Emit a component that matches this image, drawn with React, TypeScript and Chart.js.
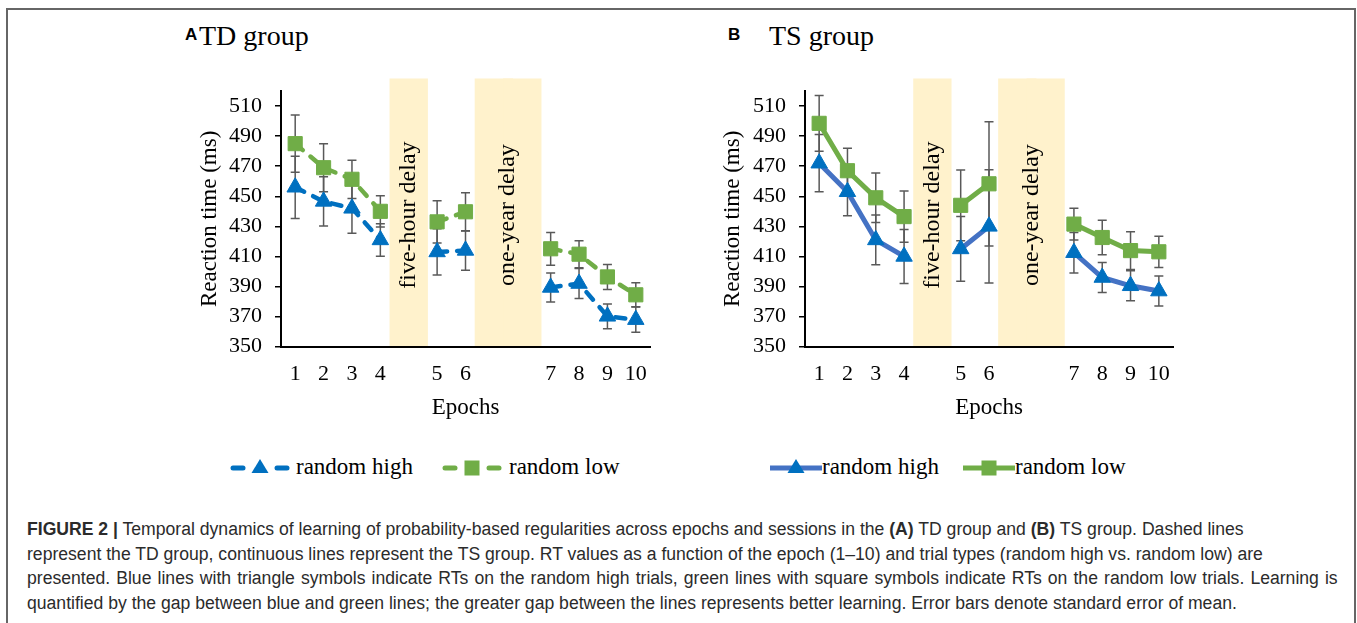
import React, { useEffect, useRef } from 'react';
import { Chart, registerables } from 'chart.js';

Chart.register(...registerables);

const SERIF = "'Liberation Serif', 'Times New Roman', serif";
const SANS = "'Liberation Sans', Arial, sans-serif";

// ---- data ----
const epochs = ['1', '2', '3', '4', '5', '6', '7', '8', '9', '10'];
// category slots of the x axis; empty slots hold the delay bands
const xSlots = ['1', '2', '3', '4', '', '5', '6', '', '', '7', '8', '9', '10'];
const delayLabels = ['five-hour delay', 'one-year delay'];
const delaySlots = [[4], [7, 8]];
const delayTop = 525;
const yTicks = [350, 370, 390, 410, 430, 450, 470, 490, 510];
const yMin = 350;
const yMax = 520;

// TD group (panel A)
const tdHigh = [456, 446.6, 442, 421, 413, 414, 389.4, 392, 370.2, 368];
const tdHighSE = [20.7, 16.4, 16.5, 10.8, 15.4, 13.1, 9.6, 10, 8.2, 8.4];
const tdLow = [485, 469, 461.3, 440, 433, 439.7, 415.1, 411.5, 396.4, 384.5];
const tdLowSE = [19, 16, 12.7, 10.4, 14, 12.7, 10.9, 9, 8.3, 8];
// TS group (panel B)
const tsHigh = [472, 453, 421, 410, 415, 430, 412.5, 396, 390.5, 387];
const tsHighSE = [19, 16, 16.5, 18, 21.5, 37.7, 13.5, 10, 10, 10];
const tsLow = [498.5, 467, 449, 436.5, 444, 458.3, 431.5, 422.6, 413.9, 413.1];
const tsLowSE = [18.5, 15, 16.5, 17, 23.5, 41.3, 10.5, 11.5, 12.5, 10.4];

const seriesNames = ['random high', 'random low'];

const BLUE = '#0070C0';
const BLUE_LINE = '#4472C4';
const GREEN = '#70AD47';
const BAND = '#FFF2CC';

function toSlots(values: number[]) {
  return xSlots.map((s) => (s === '' ? null : values[epochs.indexOf(s)]));
}

const errorBarsPlugin = {
  id: 'errorBars',
  beforeDatasetsDraw(chart: any) {
    const { ctx } = chart;
    const y = chart.scales.y;
    ctx.save();
    ctx.strokeStyle = '#595959';
    ctx.lineWidth = 1.5;
    chart.data.datasets.forEach((ds: any, i: number) => {
      if (!ds.errors) return;
      const meta = chart.getDatasetMeta(i);
      meta.data.forEach((el: any, j: number) => {
        const v = ds.data[j];
        const e = ds.errors[j];
        if (v == null || e == null) return;
        const x = el.x;
        const t = y.getPixelForValue(v + e);
        const b = y.getPixelForValue(v - e);
        ctx.beginPath();
        ctx.moveTo(x, t);
        ctx.lineTo(x, b);
        ctx.moveTo(x - 4.5, t);
        ctx.lineTo(x + 4.5, t);
        ctx.moveTo(x - 4.5, b);
        ctx.lineTo(x + 4.5, b);
        ctx.stroke();
      });
    });
    ctx.restore();
  },
};

const delayLabelPlugin = {
  id: 'delayLabels',
  afterDatasetsDraw(chart: any) {
    const { ctx } = chart;
    const x = chart.scales.x;
    const y = chart.scales.y;
    ctx.save();
    ctx.fillStyle = '#000';
    ctx.font = `24px ${SERIF}`;
    ctx.textAlign = 'center';
    ctx.textBaseline = 'middle';
    const cy = (y.getPixelForValue(delayTop) + y.getPixelForValue(yMin)) / 2;
    delaySlots.forEach((slots, k) => {
      const cx = slots.reduce((s, i) => s + x.getPixelForValue(i), 0) / slots.length;
      ctx.save();
      ctx.translate(cx, cy);
      ctx.rotate(-Math.PI / 2);
      ctx.fillText(delayLabels[k], 0, 0);
      ctx.restore();
    });
    ctx.restore();
  },
};

type PanelProps = {
  left: number;
  top: number;
  width: number;
  height: number;
  high: number[];
  highSE: number[];
  low: number[];
  lowSE: number[];
  dashed: boolean;
  padLeft: number;
  yTitlePad: { top: number; bottom: number };
};

function ChartPanel(p: PanelProps) {
  const ref = useRef<HTMLCanvasElement>(null);
  useEffect(() => {
    if (!ref.current) return;
    const bandData = xSlots.map((_, i) => (delaySlots.some((s) => s.includes(i)) ? delayTop : null));
    const dash = p.dashed ? [10, 10] : [];
    const chart = new Chart(ref.current, {
      type: 'bar',
      data: {
        labels: xSlots,
        datasets: [
          {
            type: 'bar',
            label: 'delay',
            data: bandData,
            backgroundColor: BAND,
            borderWidth: 0,
            barPercentage: 1,
            categoryPercentage: 1,
            inflateAmount: 5,
            order: 3,
            clip: { left: false, top: false, right: false, bottom: 0 },
          } as any,
          {
            type: 'line',
            label: seriesNames[0],
            data: toSlots(p.high),
            errors: toSlots(p.highSE),
            borderColor: p.dashed ? BLUE : BLUE_LINE,
            borderWidth: p.dashed ? 4.5 : 5,
            borderDash: dash,
            borderCapStyle: p.dashed ? 'round' : 'butt',
            tension: 0,
            spanGaps: false,
            pointStyle: 'triangle',
            pointRadius: 9.5,
            pointBorderWidth: 1,
            pointBackgroundColor: BLUE,
            pointBorderColor: BLUE,
            order: 2,
            clip: false,
          } as any,
          {
            type: 'line',
            label: seriesNames[1],
            data: toSlots(p.low),
            errors: toSlots(p.lowSE),
            borderColor: GREEN,
            borderWidth: p.dashed ? 4.5 : 5,
            borderDash: dash,
            borderCapStyle: p.dashed ? 'round' : 'butt',
            tension: 0,
            spanGaps: false,
            pointStyle: 'rect',
            pointRadius: 10,
            pointBorderWidth: 1,
            pointBackgroundColor: GREEN,
            pointBorderColor: GREEN,
            order: 1,
            clip: false,
          } as any,
        ],
      },
      options: {
        animation: false,
        responsive: false,
        devicePixelRatio: 1,
        events: [],
        layout: { padding: { left: p.padLeft, right: 15, top: 31, bottom: 4.3 } },
        font: { family: SERIF },
        plugins: {
          legend: { display: false },
          tooltip: { enabled: false },
        },
        scales: {
          x: {
            type: 'category',
            offset: true,
            grid: { display: false, drawTicks: false, offset: true },
            border: { display: true, color: '#000', width: 2, z: 1 },
            ticks: {
              color: '#000',
              font: { family: SERIF, size: 22 },
              padding: 14,
              maxRotation: 0,
              autoSkip: false,
            },
            title: {
              display: true,
              text: 'Epochs',
              color: '#000',
              font: { family: SERIF, size: 23 },
              padding: { top: -7, bottom: 4 },
            },
          },
          y: {
            type: 'linear',
            min: yMin,
            max: yMax,
            afterBuildTicks: (scale: any) => {
              scale.ticks = yTicks.map((v) => ({ value: v }));
            },
            grid: {
              display: true,
              drawOnChartArea: false,
              drawTicks: true,
              tickLength: 6,
              color: '#000',
              lineWidth: 1.5,
            },
            border: { display: true, color: '#000', width: 2 },
            ticks: {
              color: '#000',
              font: { family: SERIF, size: 22 },
              padding: 13,
            },
            title: {
              display: true,
              text: 'Reaction time (ms)',
              color: '#000',
              font: { family: SERIF, size: 23 },
              padding: p.yTitlePad,
            },
          },
        },
      } as any,
      plugins: [errorBarsPlugin, delayLabelPlugin],
    });
    return () => chart.destroy();
  }, []);
  return (
    <canvas
      ref={ref}
      width={p.width}
      height={p.height}
      style={{ position: 'absolute', left: p.left, top: p.top, width: p.width, height: p.height }}
    />
  );
}

function abs(left: number, top: number, extra: React.CSSProperties = {}): React.CSSProperties {
  return { position: 'absolute', left, top, whiteSpace: 'nowrap', margin: 0, ...extra };
}

function LegendSymbol({ left, kind, dashed }: { left: number; kind: 'tri' | 'sq'; dashed: boolean }) {
  const w = dashed ? 60 : 52;
  const lineColor = kind === 'tri' ? (dashed ? BLUE : BLUE_LINE) : GREEN;
  const markColor = kind === 'tri' ? BLUE : GREEN;
  const c = w / 2;
  return (
    <svg width={w} height={24} style={{ position: 'absolute', left, top: 456 }}>
      {dashed ? (
        <g stroke={lineColor} strokeWidth={5} strokeLinecap="round">
          <line x1={3} y1={12} x2={13} y2={12} />
          <line x1={w - 13} y1={12} x2={w - 3} y2={12} />
        </g>
      ) : (
        <line x1={0} y1={12} x2={w} y2={12} stroke={lineColor} strokeWidth={5} />
      )}
      {kind === 'tri' ? (
        <polygon points={`${c},3 ${c + 8.5},17 ${c - 8.5},17`} fill={markColor} />
      ) : (
        <rect x={c - 7.5} y={4.5} width={15} height={15} fill={markColor} />
      )}
    </svg>
  );
}

const legendText: React.CSSProperties = { fontFamily: SERIF, fontSize: 23, lineHeight: '23px', color: '#000' };
const captionStyle: React.CSSProperties = {
  fontFamily: SANS,
  fontSize: 17.6,
  lineHeight: '24.5px',
  color: '#2b2b2b',
};

export default function App() {
  return (
    <div style={{ position: 'absolute', left: 0, top: 0, width: 1357, height: 623, overflow: 'hidden', background: '#fff' }}>
      <div
        style={{
          position: 'absolute',
          left: 6,
          top: 8,
          width: 1346,
          height: 700,
          border: '2px solid #666',
        }}
      />
      {/* panel titles */}
      <div style={abs(185, 25.6, { fontFamily: SANS, fontWeight: 'bold', fontSize: 17, lineHeight: '17px' })}>A</div>
      <div style={abs(199, 21.6, { fontFamily: SERIF, fontSize: 28, lineHeight: '28px' })}>TD group</div>
      <div style={abs(728, 25.6, { fontFamily: SANS, fontWeight: 'bold', fontSize: 17, lineHeight: '17px' })}>B</div>
      <div style={abs(769, 21.6, { fontFamily: SERIF, fontSize: 28, lineHeight: '28px' })}>TS group</div>

      <ChartPanel
        left={185}
        top={60}
        width={480}
        height={370}
        high={tdHigh}
        highSE={tdHighSE}
        low={tdLow}
        lowSE={tdLowSE}
        dashed={true}
        padLeft={7.2}
        yTitlePad={{ top: 4, bottom: -7.8 }}
      />
      <ChartPanel
        left={710}
        top={60}
        width={478}
        height={370}
        high={tsHigh}
        highSE={tsHighSE}
        low={tsLow}
        lowSE={tsLowSE}
        dashed={false}
        padLeft={5.2}
        yTitlePad={{ top: 4, bottom: -6.8 }}
      />

      {/* legends */}
      <LegendSymbol left={230} kind="tri" dashed={true} />
      <div style={abs(296, 455, legendText)}>{seriesNames[0]}</div>
      <LegendSymbol left={442} kind="sq" dashed={true} />
      <div style={abs(509, 455, legendText)}>{seriesNames[1]}</div>
      <LegendSymbol left={770} kind="tri" dashed={false} />
      <div style={abs(822, 455, legendText)}>{seriesNames[0]}</div>
      <LegendSymbol left={963} kind="sq" dashed={false} />
      <div style={abs(1015, 455, legendText)}>{seriesNames[1]}</div>

      {/* caption */}
      <div style={abs(27, 517.2, captionStyle)}>
        <div>
          <b>FIGURE 2 |</b> Temporal dynamics of learning of probability-based regularities across epochs and sessions in the{' '}
          <b>(A)</b> TD group and <b>(B)</b> TS group. Dashed lines
        </div>
        <div>
          represent the TD group, continuous lines represent the TS group. RT values as a function of the epoch (1–10) and
          trial types (random high vs. random low) are
        </div>
        <div style={{ wordSpacing: '1.2px' }}>
          presented. Blue lines with triangle symbols indicate RTs on the random high trials, green lines with square symbols
          indicate RTs on the random low trials. Learning is
        </div>
        <div>
          quantified by the gap between blue and green lines; the greater gap between the lines represents better learning.
          Error bars denote standard error of mean.
        </div>
      </div>
    </div>
  );
}
